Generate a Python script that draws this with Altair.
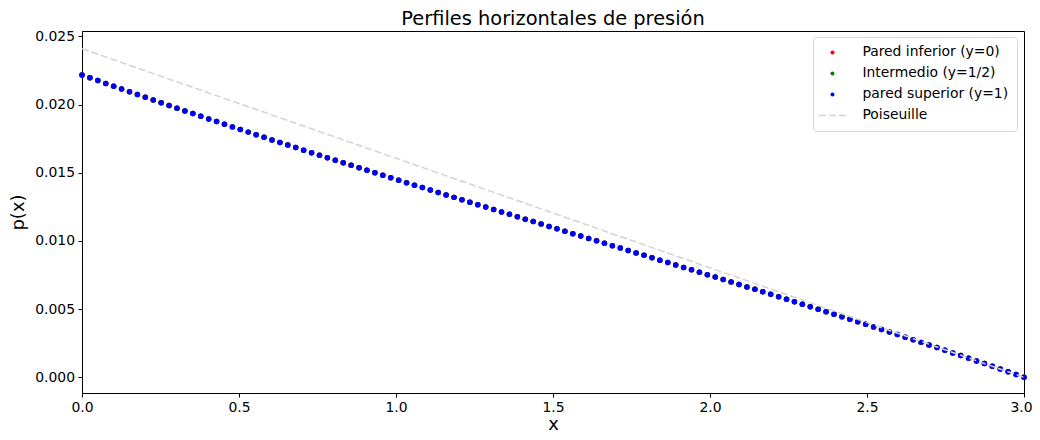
import altair as alt
import pandas as pd

# ---- data ----
x_vals = [round(3 * i / 119, 5) for i in range(120)]  # grid of 120 nodes on [0, 3]

p_superior = [
    0.02218, 0.021971, 0.021763, 0.021556, 0.02135, 0.021145, 0.020941, 0.020738, 0.020535, 0.020334,
    0.020134, 0.019934, 0.019736, 0.019538, 0.019341, 0.019144, 0.018949, 0.018755, 0.018561, 0.018368,
    0.018175, 0.017984, 0.017793, 0.017602, 0.017413, 0.017224, 0.017036, 0.016848, 0.016661, 0.016474,
    0.016288, 0.016103, 0.015918, 0.015734, 0.01555, 0.015366, 0.015184, 0.015001, 0.014819, 0.014637,
    0.014456, 0.014275, 0.014095, 0.013915, 0.013735, 0.013556, 0.013377, 0.013198, 0.013019, 0.012841,
    0.012663, 0.012485, 0.012307, 0.01213, 0.011953, 0.011775, 0.011598, 0.011422, 0.011245, 0.011068,
    0.010892, 0.010715, 0.010538, 0.010362, 0.010186, 0.010009, 0.009833, 0.009656, 0.009479, 0.009303,
    0.009126, 0.008949, 0.008772, 0.008595, 0.008418, 0.00824, 0.008062, 0.007885, 0.007707, 0.007528,
    0.00735, 0.007171, 0.006992, 0.006812, 0.006632, 0.006452, 0.006272, 0.006091, 0.00591, 0.005728,
    0.005546, 0.005364, 0.005181, 0.004997, 0.004813, 0.004629, 0.004444, 0.004259, 0.004073, 0.003886,
    0.003699, 0.003511, 0.003323, 0.003134, 0.002944, 0.002754, 0.002563, 0.002371, 0.002179, 0.001986,
    0.001792, 0.001597, 0.001402, 0.001205, 0.001009, 0.000811, 0.000612, 0.000412, 0.000212, 0.00001,
]
# the three wall/mid profiles are indistinguishable in the picture (blue covers them)
p_inferior = list(p_superior)
p_intermedio = list(p_superior)

series_names = ["Pared inferior (y=0)", "Intermedio (y=1/2)", "pared superior (y=1)", "Poiseuille"]
series_colors = ["#ff0000", "#008000", "#0000ff", "#d3d3d3"]

poiseuille_x = [0.0, 3.0]
poiseuille_p = [0.0241, 0.0]

x_ticks = [0.0, 0.5, 1.0, 1.5, 2.0, 2.5, 3.0]
y_ticks = [0.0, 0.005, 0.01, 0.015, 0.02, 0.025]

# ---- tables ----
rows = []
for name, vals in zip(series_names[:3], [p_inferior, p_intermedio, p_superior]):
    for xv, pv in zip(x_vals, vals):
        rows.append({"x": xv, "p": pv, "serie": name})
df_pts = pd.DataFrame(rows)
df_pois = pd.DataFrame({"x": poiseuille_x, "p": poiseuille_p})

FONT = "DejaVu Sans"
dash_path = ("M-6.75,-0.38L-3.25,-0.38L-3.25,0.38L-6.75,0.38Z "
             "M-1.75,-0.38L1.75,-0.38L1.75,0.38L-1.75,0.38Z "
             "M3.25,-0.38L6.75,-0.38L6.75,0.38L3.25,0.38Z")

xscale = alt.Scale(domain=[0, 3], nice=False, zero=False)
yscale = alt.Scale(domain=[-0.00115, 0.0254], nice=False, zero=False)
xaxis = alt.Axis(values=x_ticks, format=".1f", title="x", labelFlush=False,
                 labelOffset={"condition": {"test": "datum.value >= 3", "value": -3}, "value": 0})
yaxis = alt.Axis(values=y_ticks, format=".3f", title="p(x)", labelFlush=False)

legend_kw = dict(
    title=None, orient="none", legendX=731, legendY=6, padding=8.5,
    symbolSize=16, symbolOffset=4, labelOffset=23, rowPadding=6,
    labelFontSize=13.9, labelFont=FONT, labelColor="black",
    strokeColor="#d6d6d6", cornerRadius=3, fillColor="white",
)

points = alt.Chart(df_pts).mark_point(filled=True, size=30, opacity=1, strokeWidth=0).encode(
    x=alt.X("x:Q", scale=xscale, axis=xaxis),
    y=alt.Y("p:Q", scale=yscale, axis=yaxis),
    color=alt.Color("serie:N", scale=alt.Scale(domain=series_names, range=series_colors),
                    legend=alt.Legend(**legend_kw)),
    shape=alt.Shape("serie:N", scale=alt.Scale(domain=series_names,
                                               range=["circle", "circle", "circle", dash_path]),
                    legend=alt.Legend(**legend_kw)),
)

pois = alt.Chart(df_pois).mark_line(color="#d3d3d3", strokeWidth=1.5, strokeDash=[7, 3]).encode(
    x=alt.X("x:Q", scale=xscale),
    y=alt.Y("p:Q", scale=yscale),
)

chart = alt.layer(points, pois).properties(
    width=942, height=362,
    title=alt.TitleParams("Perfiles horizontales de presión", fontSize=19.4, fontWeight="normal",
                          font=FONT, color="black", offset=0, anchor="middle"),
    autosize=alt.AutoSizeParams(type="none"),
    padding={"left": 74, "top": 23, "right": 8, "bottom": 39},
).configure_view(stroke="black", strokeWidth=1).configure_axis(
    grid=False, domainColor="black", tickColor="black", tickSize=4, labelPadding=3.5,
    labelFont=FONT, labelFontSize=13.9, labelColor="black",
    titleFont=FONT, titleFontSize=18, titleFontWeight="normal", titleColor="black",
).configure_axisY(titlePadding=7).configure_axisX(titlePadding=1)

chart.save("out.html", embed_options={"renderer": "svg", "actions": False})
